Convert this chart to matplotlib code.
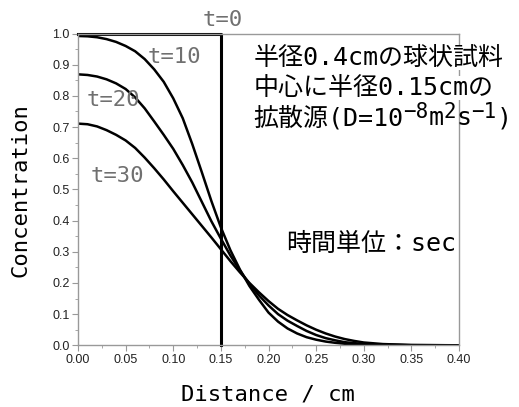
import matplotlib
matplotlib.use('Agg')
import matplotlib.pyplot as plt
from matplotlib.ticker import MultipleLocator, FormatStrFormatter

MONO = ['DejaVu Sans Mono', 'Noto Sans CJK JP']

# distance from centre (cm)
dist = [0.00, 0.01, 0.02, 0.03, 0.04, 0.05, 0.06, 0.07, 0.08, 0.09,
        0.10, 0.11, 0.12, 0.13, 0.14, 0.15, 0.16, 0.17, 0.18, 0.19,
        0.20, 0.21, 0.22, 0.23, 0.24, 0.25, 0.26, 0.27, 0.28, 0.29,
        0.30, 0.32, 0.35, 0.40]
conc_t10 = [0.992, 0.991, 0.988, 0.982, 0.973, 0.960, 0.943, 0.918, 0.885, 0.845,
            0.792, 0.728, 0.645, 0.555, 0.463, 0.378, 0.305, 0.243, 0.190, 0.146,
            0.105, 0.076, 0.054, 0.038, 0.026, 0.018, 0.012, 0.008, 0.005, 0.003,
            0.002, 0.001, 0.0, 0.0]
conc_t20 = [0.869, 0.867, 0.862, 0.853, 0.840, 0.822, 0.795, 0.760, 0.718, 0.675,
            0.630, 0.578, 0.522, 0.460, 0.398, 0.342, 0.288, 0.240, 0.197, 0.160,
            0.128, 0.100, 0.079, 0.062, 0.046, 0.033, 0.023, 0.016, 0.010, 0.007,
            0.004, 0.002, 0.0005, 0.0]
conc_t30 = [0.711, 0.709, 0.702, 0.690, 0.675, 0.657, 0.633, 0.602, 0.568, 0.532,
            0.494, 0.457, 0.420, 0.383, 0.346, 0.308, 0.270, 0.234, 0.200, 0.170,
            0.142, 0.117, 0.097, 0.080, 0.064, 0.050, 0.038, 0.028, 0.020, 0.014,
            0.009, 0.004, 0.001, 0.0]

# initial condition t=0
init_x = [0, 0.15, 0.15]
init_y = [1.0, 1.0, 0.0]

fig = plt.figure(figsize=(5.19, 4.07), dpi=100)
ax = fig.add_axes([78/519, (407-345.3)/407, (459-78)/519, (345.3-33.5)/407])

for c in [conc_t10, conc_t20, conc_t30]:
    ax.plot(dist, c, c='k', lw=1.8, solid_joinstyle='round')
ax.plot(init_x, init_y, c='k', lw=2.2, clip_on=False)

ax.set_xlim(0, 0.40)
ax.set_ylim(0, 1.0)
ax.xaxis.set_major_locator(MultipleLocator(0.05))
ax.xaxis.set_minor_locator(MultipleLocator(0.025))
ax.yaxis.set_major_locator(MultipleLocator(0.1))
ax.yaxis.set_minor_locator(MultipleLocator(0.05))
ax.xaxis.set_major_formatter(FormatStrFormatter('%.2f'))
ax.yaxis.set_major_formatter(FormatStrFormatter('%.1f'))
for s in ax.spines.values():
    s.set_color('#999999')
    s.set_linewidth(1.0)
ax.tick_params(which='major', length=4, color='#999999', labelsize=9,
               labelcolor='#222222', pad=2)
ax.tick_params(which='minor', length=2.5, color='#999999')
for lab in ax.get_xticklabels() + ax.get_yticklabels():
    lab.set_family('Liberation Sans')

fig.text(268/519, 1-395/407, 'Distance / cm', ha='center', va='center',
         family=MONO, fontsize=16)
fig.text(21/519, 1-190/407, 'Concentration', rotation=90, ha='center',
         va='center', family=MONO, fontsize=16)

gray = '#707070'
ax.text(0.152, 1.043, 't=0', color=gray, family=MONO, fontsize=16, ha='center', va='center')
ax.text(0.101, 0.925, 't=10', color=gray, family=MONO, fontsize=16, ha='center', va='center')
ax.text(0.037, 0.786, 't=20', color=gray, family=MONO, fontsize=16, ha='center', va='center')
ax.text(0.041, 0.543, 't=30', color=gray, family=MONO, fontsize=16, ha='center', va='center')

ax.text(0.184, 0.921, '半径0.4cmの球状試料', family=MONO, fontsize=18,
        ha='left', va='center', bbox=dict(fc='white', ec='none', pad=0))
ax.text(0.184, 0.825, '中心に半径0.15cmの', family=MONO, fontsize=18,
        ha='left', va='center', bbox=dict(fc='white', ec='none', pad=0))

# third line with superscripts built piece by piece
prev = ax.text(0.184, 0.706, '拡散源(D=10', family=MONO, fontsize=18,
               ha='left', va='baseline')
pieces = [('\u22128', True), ('m', False), ('2', True), ('s', False),
          ('\u22121', True), (')', False)]
raised = False
for s, sup in pieces:
    dy = 0
    if sup and not raised:
        dy = 6
    elif raised and not sup:
        dy = -6
    prev = ax.annotate(s, xy=(1, 0), xycoords=prev, xytext=(0, dy),
                       textcoords='offset points', family=MONO,
                       fontsize=15 if sup else 18, ha='left', va='bottom')
    raised = sup

ax.text(0.219, 0.325, '時間単位：sec', family=MONO, fontsize=18,
        ha='left', va='center')

fig.savefig('out.png', dpi=100)
